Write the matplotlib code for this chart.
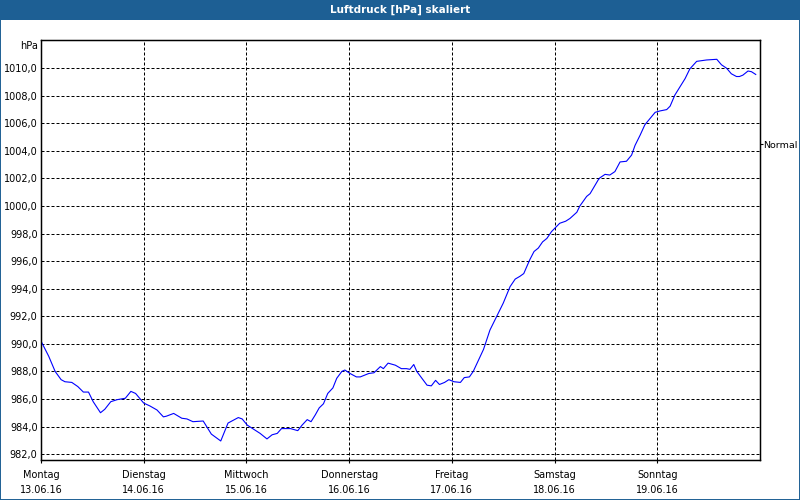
import matplotlib
matplotlib.use("Agg")
import matplotlib.pyplot as plt
from matplotlib.patches import Rectangle

# Stunden seit Montag 00:00 und Luftdruck in hPa
stunden = [
    0, 1.8, 3.3, 4.7, 5.6, 7.2, 8.6, 9.9, 11.1, 12.2, 13.9, 14.9, 16.3, 17.8,
    19.7, 21.0, 22.1, 24.0, 25.4, 27.1, 28.6, 29.3, 31.0, 32.9, 34.1, 35.5,
    37.9, 39.8, 42.0, 43.7, 44.6, 46.1, 47.0, 48.2, 49.7, 51.2, 52.8, 54.0,
    55.2, 56.2, 58.3, 60.0, 61.0, 62.2, 63.1, 64.1, 65.0, 66.0, 67.0, 68.2,
    69.1, 70.3, 71.0, 72.2, 73.7, 74.6, 75.8, 76.6, 77.8, 79.3, 80.0, 81.1,
    82.8, 84.2, 85.4, 86.2, 87.1, 87.8, 89.0, 90.2, 91.2, 92.2, 93.1, 94.3,
    95.3, 96.5, 98.0, 98.9, 100.1, 101.0, 102.2, 103.4, 104.9, 106.5, 108.0,
    109.6, 110.8, 111.9, 112.8, 114.2, 115.2, 116.2, 117.2, 118.2, 119.3,
    121.2, 122.6, 123.6, 125.2, 125.9, 127.5, 128.3, 130.2, 130.6, 131.8,
    132.9, 134.1, 135.3, 136.8, 138.0, 138.8, 140.0, 141.1, 142.3, 143.5,
    144.6, 146.2, 147.0, 148.1, 149.3, 150.5, 151.6, 153.2, 155.5, 157.9,
    159.0, 160.2, 161.3, 162.5, 163.2, 164.0, 165.2, 166.0, 167.0,
]
druck = [
    990.2, 989.1, 988.0, 987.4, 987.25, 987.2, 986.9, 986.5, 986.5, 985.8,
    985.0, 985.25, 985.8, 985.95, 986.05, 986.55, 986.4, 985.7, 985.5, 985.2,
    984.7, 984.75, 984.95, 984.6, 984.55, 984.35, 984.4, 983.45, 982.95,
    984.25, 984.4, 984.65, 984.55, 984.1, 983.8, 983.5, 983.1, 983.4, 983.5,
    983.85, 983.85, 983.7, 984.1, 984.5, 984.35, 984.85, 985.35, 985.65,
    986.4, 986.8, 987.5, 988.0, 988.1, 987.85, 987.6, 987.6, 987.75, 987.85,
    987.9, 988.35, 988.2, 988.6, 988.45, 988.2, 988.2, 988.15, 988.5, 988.0,
    987.5, 987.0, 986.95, 987.35, 987.05, 987.2, 987.4, 987.25, 987.2,
    987.55, 987.6, 988.0, 988.8, 989.6, 991.0, 992.0, 992.95, 994.15, 994.7,
    994.9, 995.1, 996.1, 996.7, 996.95, 997.4, 997.65, 998.15, 998.75, 998.9,
    999.1, 999.55, 1000.0, 1000.7, 1000.9, 1001.9, 1002.05, 1002.3, 1002.25,
    1002.5, 1003.2, 1003.25, 1003.7, 1004.4, 1005.15, 1005.9, 1006.35,
    1006.8, 1006.9, 1007.0, 1007.25, 1008.05, 1008.65, 1009.25, 1009.95,
    1010.5, 1010.6, 1010.65, 1010.25, 1010.0, 1009.6, 1009.4, 1009.4, 1009.5,
    1009.8, 1009.75, 1009.55,
]

tage = ['Montag', 'Dienstag', 'Mittwoch', 'Donnerstag', 'Freitag', 'Samstag', 'Sonntag']
daten = ['13.06.16', '14.06.16', '15.06.16', '16.06.16', '17.06.16', '18.06.16', '19.06.16']
y_ticks = [982, 984, 986, 988, 990, 992, 994, 996, 998, 1000, 1002, 1004, 1006, 1008, 1010]
normal = 1004.5

titel = 'Luftdruck [hPa] skaliert'
blau = '#1d5f94'

fig = plt.figure(figsize=(8, 5), dpi=100)
fig.patch.set_facecolor('white')

# Titelleiste und Rahmen
fig.patches.append(Rectangle((0, 0.96), 1, 0.04, transform=fig.transFigure,
                             facecolor=blau, edgecolor='none', zorder=0))
fig.patches.append(Rectangle((0.0006, 0.001), 0.9988, 0.998, transform=fig.transFigure,
                             facecolor='none', edgecolor=blau, linewidth=1.4, zorder=1))
fig.text(0.5, 0.98, titel, color='white', fontsize=7.5, fontweight='bold',
         ha='center', va='center')

ax = fig.add_axes([41 / 800, 40 / 500, 719 / 800, 420 / 500])
ax.plot(stunden, druck, color='#0000ff', linewidth=0.8, zorder=3)

ax.set_xlim(0, 168)
ax.set_ylim(981.57, 1012.05)

ax.set_yticks(y_ticks)
ax.set_yticklabels([f'{v:.1f}'.replace('.', ',') for v in y_ticks])
ax.set_xticks([24 * i for i in range(len(tage))])
ax.set_xticklabels([f'{t}\n{d}' for t, d in zip(tage, daten)])
for lbl in ax.get_xticklabels():
    lbl.set_linespacing(1.6)

ax.tick_params(axis='y', length=0, pad=2.5, labelsize=7)
ax.tick_params(axis='x', length=2, width=0.8, pad=5, labelsize=7, direction='out')

ax.grid(True, color='black', linestyle=(0, (3, 2)), linewidth=0.72)
for s in ax.spines.values():
    s.set_linewidth(1.0)
    s.set_color('black')

ax.text(-0.004, 1011.6, 'hPa', transform=ax.get_yaxis_transform(),
        ha='right', va='center', fontsize=7)

ax2 = ax.twinx()
ax2.set_ylim(ax.get_ylim())
ax2.set_yticks([normal])
ax2.set_yticklabels(['Normal'])
ax2.tick_params(axis='y', length=2.2, width=0.8, pad=0.3, labelsize=6.8)

fig.savefig('out.png', dpi=100)
